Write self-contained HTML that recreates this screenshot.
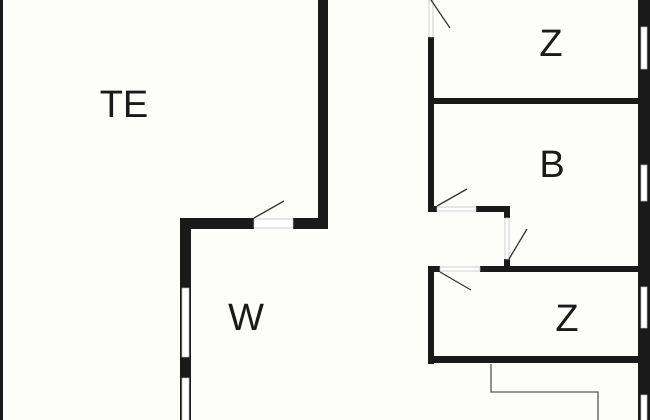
<!DOCTYPE html><html><head><style>body{margin:0;background:#fdfdf9}svg{display:block}</style></head><body>
<svg width="650" height="420" viewBox="0 0 650 420" xmlns="http://www.w3.org/2000/svg">
<rect width="650" height="420" fill="#fdfdf9"/>
<g fill="#1a1a1a">
<rect x="0" y="0" width="3" height="420"/>
<rect x="318" y="0" width="10" height="229"/>
<rect x="180" y="218" width="74" height="11"/>
<rect x="293" y="218" width="35" height="11"/>
<rect x="180" y="218" width="11" height="202"/>
<rect x="638" y="0" width="12" height="420"/>
<rect x="428" y="37" width="6" height="175"/>
<rect x="428" y="98" width="212" height="6"/>
<rect x="428" y="206" width="9" height="6"/>
<rect x="476" y="206" width="34" height="6"/>
<rect x="504" y="206" width="6" height="12"/>
<rect x="504" y="259" width="6" height="13"/>
<rect x="480" y="266" width="160" height="6"/>
<rect x="428" y="266" width="12" height="6"/>
<rect x="428" y="266" width="6" height="98"/>
<rect x="428" y="356" width="212" height="7"/>
</g>
<g fill="#fff" stroke="#bbb" stroke-width="0.7">
<rect x="254" y="219" width="39" height="9"/>
<rect x="182" y="288" width="7" height="69"/>
<rect x="182" y="378" width="7" height="44"/>
<rect x="641" y="27" width="6" height="42"/>
<rect x="641" y="165" width="6" height="36"/>
<rect x="641" y="287" width="6" height="41"/>
<rect x="641" y="395" width="6" height="27"/>
<rect x="429" y="0" width="4" height="37"/>
<rect x="437" y="207" width="39" height="4"/>
<rect x="505" y="218" width="4" height="41"/>
<rect x="440" y="267" width="40" height="4"/>
</g>
<g stroke="#333" stroke-width="1.3" fill="none">
<line x1="254" y1="218" x2="284" y2="201"/>
<line x1="431" y1="0" x2="450" y2="28"/>
<line x1="437" y1="206" x2="467" y2="189"/>
<line x1="509" y1="259" x2="527" y2="229"/>
<line x1="440" y1="272" x2="471" y2="290"/>
<polyline points="491,364 491,392 598,392 598,420" stroke="#555"/>
</g>
<g font-family="Liberation Sans, sans-serif" font-size="38" fill="#1a1a1a" text-anchor="middle">
<text x="124" y="117">TE</text>
<text x="551" y="56">Z</text>
<text x="552" y="177">B</text>
<text x="567" y="331">Z</text>
<text x="246" y="330">W</text>
</g>
</svg>
</body></html>
